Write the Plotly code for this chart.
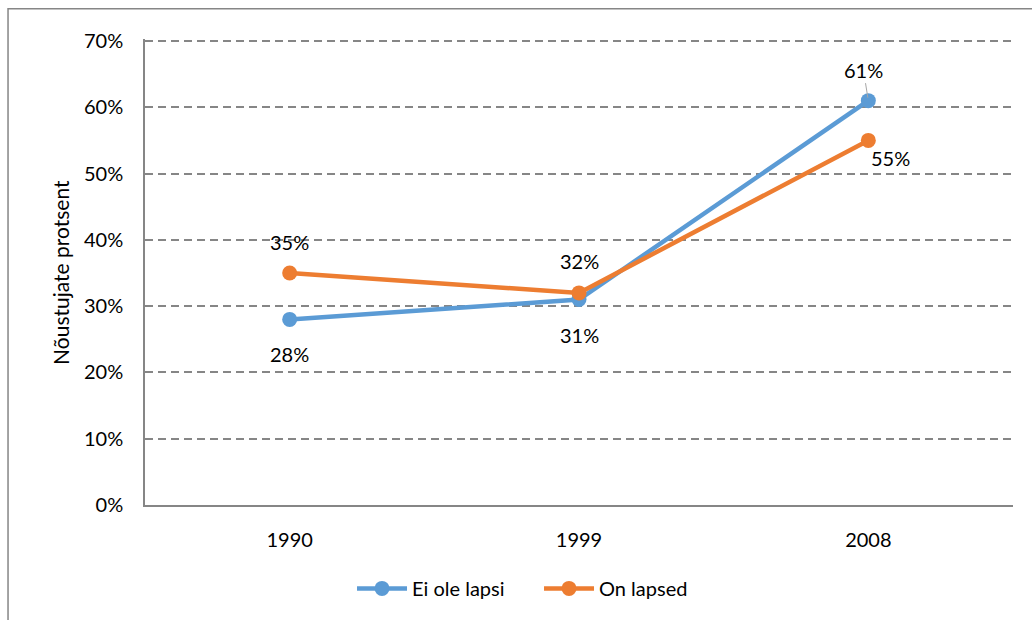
import plotly.graph_objects as go

years = ["1990", "1999", "2008"]
ei_ole_lapsi = [0.28, 0.31, 0.61]
on_lapsed = [0.35, 0.32, 0.55]
series_names = ["Ei ole lapsi", "On lapsed"]
y_ticks = [0, 0.1, 0.2, 0.3, 0.4, 0.5, 0.6, 0.7]
y_tick_text = ["0%", "10%", "20%", "30%", "40%", "50%", "60%", "70%"]

BLUE = "#5B9BD5"
ORANGE = "#ED7D31"
GRAY = "#868686"
FONT = "Lato"
FS = 20

fig = go.Figure()
fig.add_trace(go.Scatter(x=years, y=ei_ole_lapsi, name=series_names[0], mode="lines+markers",
                         line=dict(color=BLUE, width=4.5), marker=dict(size=15, color=BLUE)))
fig.add_trace(go.Scatter(x=years, y=on_lapsed, name=series_names[1], mode="lines+markers",
                         line=dict(color=ORANGE, width=4.5), marker=dict(size=15, color=ORANGE)))

# data labels (offsets in px relative to points); x given as category index
blue_shifts = [(0, -35), (0, -35)]
orange_shifts = [(0, 31), (0, 32), (22, -18)]
for i, (dx, dy) in enumerate(blue_shifts):
    fig.add_annotation(x=i, y=ei_ole_lapsi[i], text=f"{round(ei_ole_lapsi[i]*100)}%",
                       showarrow=False, xshift=dx, yshift=dy, xanchor="center", yanchor="middle",
                       font=dict(family=FONT, size=FS, color="#000"))
for i, (dx, dy) in enumerate(orange_shifts):
    fig.add_annotation(x=i, y=on_lapsed[i], text=f"{round(on_lapsed[i]*100)}%",
                       showarrow=False, xshift=dx, yshift=dy, xanchor="center", yanchor="middle",
                       font=dict(family=FONT, size=FS, color="#000"))
# 61% label with leader line
fig.add_annotation(x=2, y=ei_ole_lapsi[2], text=f"{round(ei_ole_lapsi[2]*100)}%",
                   showarrow=True, arrowhead=0, arrowwidth=1, arrowcolor="#A6A6A6",
                   ax=-5, ay=-31, standoff=3, font=dict(family=FONT, size=FS, color="#000"))

# y axis title
fig.add_annotation(xref="paper", yref="paper", x=-0.098, y=0.5, text="Nõustujate protsent",
                   xanchor="center", yanchor="middle",
                   textangle=-90, showarrow=False, font=dict(family=FONT, size=21, color="#000"))

# chart border (left and top edges visible; right/bottom fall outside the page)
fig.add_shape(type="rect", xref="paper", yref="paper", x0=-0.1578, x1=1.06, y0=-0.4, y1=1.0647,
              line=dict(color=GRAY, width=1.5), fillcolor="rgba(0,0,0,0)", layer="below")

fig.update_layout(
    width=1032, height=620,
    margin=dict(l=145, r=19, t=39, b=115, autoexpand=False),
    paper_bgcolor="white", plot_bgcolor="white",
    font=dict(family=FONT, size=FS, color="#000"),
    showlegend=True,
    legend=dict(orientation="h", x=0.2385, xanchor="left", y=-0.179, yanchor="middle",
                font=dict(family=FONT, size=FS, color="#000"), itemwidth=50,
                entrywidth=122, entrywidthmode="pixels",
                bgcolor="rgba(0,0,0,0)", traceorder="normal"),
    xaxis=dict(type="category", range=[-0.5, 2.5], showgrid=False, showline=True,
               linecolor=GRAY, linewidth=1.5, ticks="", ticklabelstandoff=16, automargin=False,
               tickfont=dict(family=FONT, size=FS, color="#000")),
    yaxis=dict(range=[0, 0.703], tickvals=y_ticks, ticktext=y_tick_text, showgrid=True,
               gridcolor=GRAY, gridwidth=1.8, griddash="8px,5px", zeroline=False,
               showline=True, linecolor=GRAY, linewidth=1.5, ticks="", ticklabelstandoff=16,
               automargin=False, tickfont=dict(family=FONT, size=FS, color="#000")),
)

fig.write_html("out.html", config={"displayModeBar": False},
               post_script="document.body.style.margin='0';")
